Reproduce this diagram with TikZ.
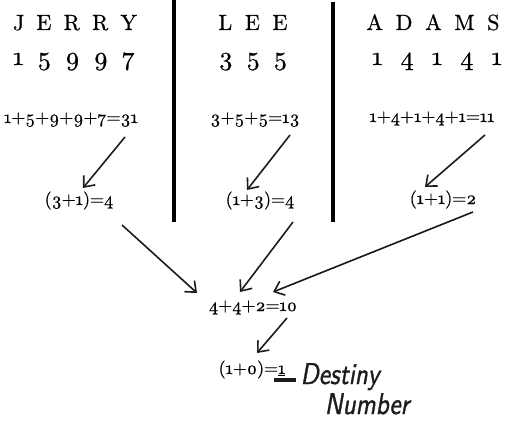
\documentclass[tikz,border=0pt]{standalone}
\usepackage{fontspec}
\setmainfont{lmroman10-regular.otf}[Numbers=OldStyle, FakeBold=0.6]
\newfontfamily\handfont{lmsans10-oblique.otf}[FakeBold=1.2]
\usepackage{graphicx}
\usepackage{xcolor}
\usepackage{tikz}
\usetikzlibrary{arrows.meta, calc}
\definecolor{graphite}{HTML}{1C1C1C}

\tikzset{
  headline/.style={anchor=base, inner sep=0pt, font=\fontsize{22}{24}\selectfont},
  headdigits/.style={anchor=base, inner sep=0pt, font=\fontsize{26}{28}\selectfont},
  sumline/.style={anchor=base, inner sep=0pt, font=\fontsize{18}{20}\selectfont},
  scribble/.style={anchor=base, inner sep=0pt, text=graphite, font=\handfont\fontsize{30}{32}\selectfont},
  pencil/.style={draw=graphite, line width=1.6pt, -{Straight Barb[length=9pt,width=15pt]}},
  divider/.style={line width=3.4pt}
}

\begin{document}
\begin{tikzpicture}[x=1pt, y=-1pt]
    \useasboundingbox (0,0) rectangle (520,436);

    % names and their numbers
    \node[headline] (jname) at (75,30) {\makebox[124pt][s]{J E R R Y}};
    \node[headdigits] (jnum) at (74,65) {\makebox[122pt][s]{1 5 9 9 7}};
    \node[headline] (lname) at (253,30) {\makebox[69pt][s]{L E E}};
    \node[headdigits] (lnum) at (253,65) {\makebox[69pt][s]{3 5 5}};
    \node[headline] (aname) at (433,30) {\makebox[133pt][s]{A D A M S}};
    \node[headdigits] (anum) at (437,65) {\makebox[130pt][s]{1 4 1 4 1}};

    \draw[divider] (174,0) -- (174,222);
    \draw[divider] (333,2) -- (333,222);

    % sums
    \node[sumline] (jsum) at (71,123) {1+5+9+9+7=31};
    \node[sumline] (lsum) at (255,123) {3+5+5=13};
    \node[sumline] (asum) at (432,122) {1+4+1+4+1=11};

    \node[sumline] (jred) at (79,205) {(3+1)=4};
    \node[sumline] (lred) at (260,205) {(1+3)=4};
    \node[sumline] (ared) at (443,204) {(1+1)=2};

    \node[sumline] (tot) at (253,311) {4+4+2=10};
    \node[sumline] (res) at (252,374) {(1+0)=\underline{1}};

    \node[scribble] (dest) at (340,384) {\scalebox{0.84}[1]{Destiny}};
    \node[scribble] (numb) at (367,414) {\scalebox{0.84}[1]{Number}};

    % hand-drawn arrows
    \draw[pencil] ($(jsum.base)+(54,14)$) -- ($(jred.base)+(4,-17)$);
    \draw[pencil] ($(lsum.base)+(35,12)$) -- ($(lred.base)+(-13,-15)$);
    \draw[pencil] ($(asum.base)+(53,13)$) -- ($(ared.base)+(-18,-17)$);
    \draw[pencil] ($(jred.base)+(43,20)$) -- ($(tot.base)+(-56,-18)$);
    \draw[pencil] ($(lred.base)+(33,17)$) -- ($(tot.base)+(-13,-19)$);
    \draw[pencil] ($(ared.base)+(30,8)$) -- ($(tot.base)+(20,-19)$);
    \draw[pencil] ($(tot.base)+(34,7)$) -- ($(res.base)+(5,-21)$);

    \draw[graphite, line width=4.5pt] ($(res.base)+(22,6)$) -- ($(dest.base)+(-44,-4)$);
\end{tikzpicture}
\end{document}
